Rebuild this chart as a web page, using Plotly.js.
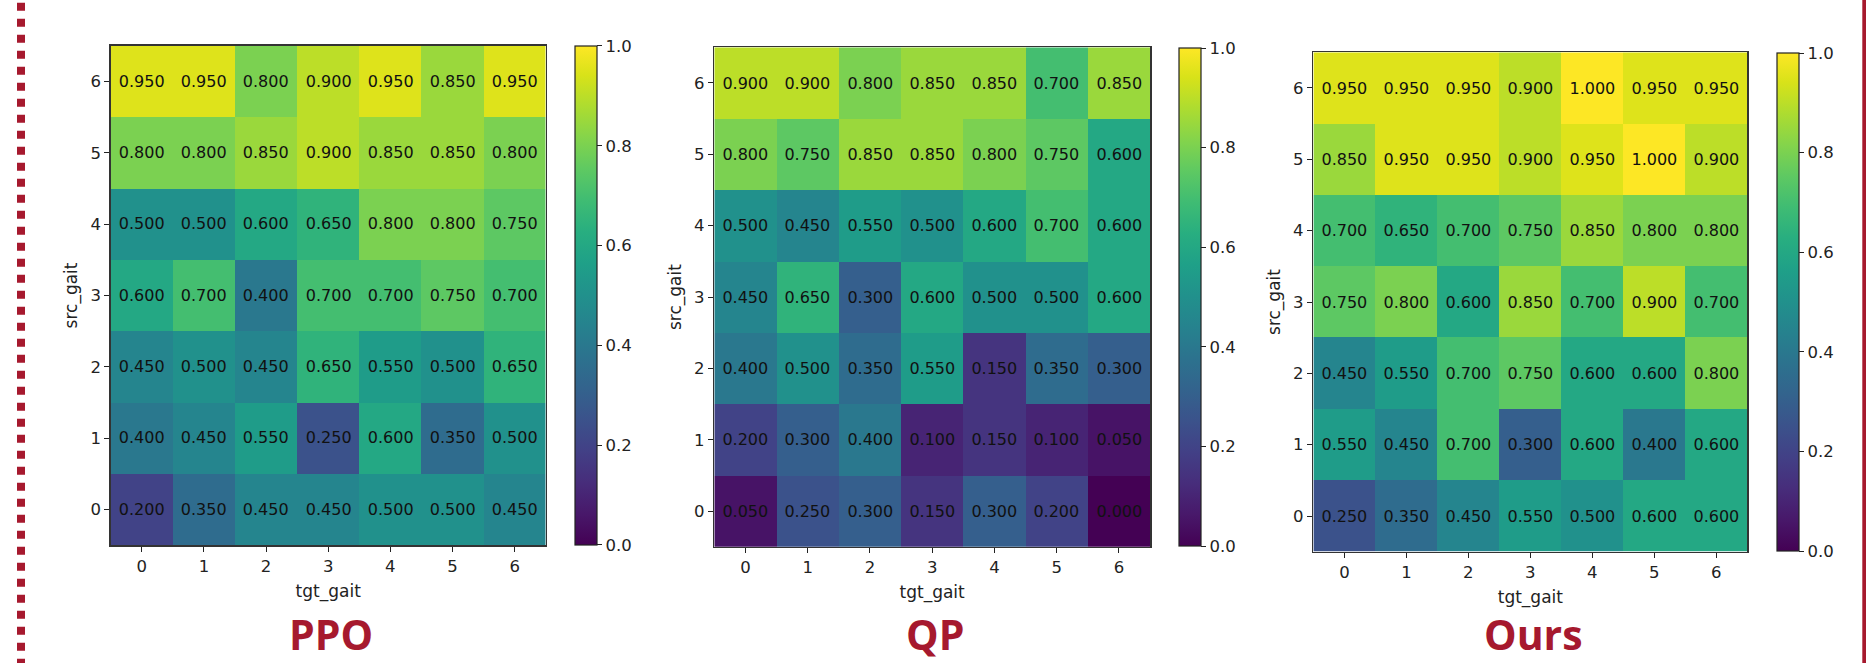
<!DOCTYPE html>
<html>
<head>
<meta charset="utf-8">
<script src="https://cdn.plot.ly/plotly-3.0.1.min.js"></script>
<style>
  html, body { margin: 0; padding: 0; background: #ffffff; }
  #chart { width: 1866px; height: 663px; }
</style>
</head>
<body>
<div id="chart"></div>
<script>
// ---- data ----
const tgtGait = [0, 1, 2, 3, 4, 5, 6];
const srcGait = [0, 1, 2, 3, 4, 5, 6];
const tickLabels = ['0', '1', '2', '3', '4', '5', '6'];
const cbTickVals = [0, 0.2, 0.4, 0.6, 0.8, 1.0];
const cbTickText = ['0.0', '0.2', '0.4', '0.6', '0.8', '1.0'];
const panelTitles = ['PPO', 'QP', 'Ours'];

// rows: src_gait 0..6, columns: tgt_gait 0..6
const ppoValues = [
  [0.20, 0.35, 0.45, 0.45, 0.50, 0.50, 0.45],
  [0.40, 0.45, 0.55, 0.25, 0.60, 0.35, 0.50],
  [0.45, 0.50, 0.45, 0.65, 0.55, 0.50, 0.65],
  [0.60, 0.70, 0.40, 0.70, 0.70, 0.75, 0.70],
  [0.50, 0.50, 0.60, 0.65, 0.80, 0.80, 0.75],
  [0.80, 0.80, 0.85, 0.90, 0.85, 0.85, 0.80],
  [0.95, 0.95, 0.80, 0.90, 0.95, 0.85, 0.95]
];
const qpValues = [
  [0.05, 0.25, 0.30, 0.15, 0.30, 0.20, 0.00],
  [0.20, 0.30, 0.40, 0.10, 0.15, 0.10, 0.05],
  [0.40, 0.50, 0.35, 0.55, 0.15, 0.35, 0.30],
  [0.45, 0.65, 0.30, 0.60, 0.50, 0.50, 0.60],
  [0.50, 0.45, 0.55, 0.50, 0.60, 0.70, 0.60],
  [0.80, 0.75, 0.85, 0.85, 0.80, 0.75, 0.60],
  [0.90, 0.90, 0.80, 0.85, 0.85, 0.70, 0.85]
];
const oursValues = [
  [0.25, 0.35, 0.45, 0.55, 0.50, 0.60, 0.60],
  [0.55, 0.45, 0.70, 0.30, 0.60, 0.40, 0.60],
  [0.45, 0.55, 0.70, 0.75, 0.60, 0.60, 0.80],
  [0.75, 0.80, 0.60, 0.85, 0.70, 0.90, 0.70],
  [0.70, 0.65, 0.70, 0.75, 0.85, 0.80, 0.80],
  [0.85, 0.95, 0.95, 0.90, 0.95, 1.00, 0.90],
  [0.95, 0.95, 0.95, 0.90, 1.00, 0.95, 0.95]
];

// ---- layout geometry (pixels) ----
const W = 1866, H = 663;
const px = x => x / W;
const py = y => 1 - y / H;
const panels = [
  { z: ppoValues,  x0: 110.7,  x1: 545.7,  y0: 45.7, y1: 545.2, cbx: 575 },
  { z: qpValues,   x0: 714.3,  x1: 1150.0, y0: 47.3, y1: 546.8, cbx: 1179 },
  { z: oursValues, x0: 1313.4, x1: 1747.3, y0: 52.3, y1: 551.7, cbx: 1777 }
];

const FONT = 'DejaVu Sans, sans-serif';
const TXT = '#222222';
const RED = '#A6192E';
const TICK_SIZE = 16.5;
const CELL_SIZE = 16;
const AXT_SIZE = 17;

const traces = [];
const layout = {
  width: W, height: H,
  margin: { l: 0, r: 0, t: 0, b: 0, pad: 0 },
  paper_bgcolor: '#ffffff',
  plot_bgcolor: '#ffffff',
  font: { family: FONT, size: TICK_SIZE, color: TXT },
  showlegend: false,
  annotations: [],
  shapes: []
};

panels.forEach((p, i) => {
  const n = i === 0 ? '' : String(i + 1);
  traces.push({
    type: 'heatmap',
    x: tgtGait, y: srcGait, z: p.z,
    xaxis: 'x' + n, yaxis: 'y' + n,
    colorscale: 'Viridis', zmin: 0, zmax: 1,
    texttemplate: '%{z:.3f}',
    textfont: { family: FONT, size: CELL_SIZE, color: '#111111' },
    hoverinfo: 'skip',
    colorbar: {
      x: px(p.cbx), xanchor: 'left', xpad: 0,
      y: py((p.y0 + p.y1) / 2), yanchor: 'middle', ypad: 0,
      len: p.y1 - p.y0 - 1, lenmode: 'pixels',
      thickness: 21.7, thicknessmode: 'pixels',
      outlinewidth: 1.2, outlinecolor: '#222222',
      ticks: 'outside', ticklen: 5, tickwidth: 1, tickcolor: '#222222',
      tickvals: cbTickVals, ticktext: cbTickText,
      tickfont: { family: FONT, size: TICK_SIZE, color: TXT }
    }
  });
  const axCommon = {
    range: [-0.5, 6.5],
    tickvals: tgtGait, ticktext: tickLabels,
    ticks: 'outside', ticklen: 5, tickwidth: 1, tickcolor: '#222222',
    showline: true, mirror: true, linecolor: '#333333', linewidth: 1.5,
    showgrid: false, zeroline: false, fixedrange: true,
    tickfont: { family: FONT, size: TICK_SIZE, color: TXT }
  };
  layout['xaxis' + n] = Object.assign({}, axCommon, {
    domain: [px(p.x0), px(p.x1)],
    anchor: 'y' + n,
    title: { text: 'tgt_gait', standoff: 10, font: { family: FONT, size: AXT_SIZE, color: TXT } }
  });
  layout['yaxis' + n] = Object.assign({}, axCommon, {
    domain: [py(p.y1), py(p.y0)],
    anchor: 'x' + n,
    tickvals: srcGait,
    title: { text: 'src_gait', standoff: 8, font: { family: FONT, size: AXT_SIZE, color: TXT } }
  });
  layout.annotations.push({
    xref: 'paper', yref: 'paper',
    x: px((p.x0 + p.x1) / 2 + 3), y: py(662.5),
    xanchor: 'center', yanchor: 'bottom',
    text: '<b>' + panelTitles[i] + '</b>',
    showarrow: false, borderpad: 0,
    font: { family: 'Open Sans, sans-serif', size: 41, color: RED }
  });
});

// decorative borders
layout.shapes.push({
  type: 'line', xref: 'paper', yref: 'paper',
  x0: px(21), x1: px(21), y0: 1.02, y1: 0,
  line: { color: RED, width: 8, dash: '8px,8px' }
});
layout.shapes.push({
  type: 'rect', xref: 'paper', yref: 'paper',
  x0: px(1862.3), x1: 1, y0: 0, y1: 1,
  fillcolor: RED, line: { width: 0 }
});

Plotly.newPlot('chart', traces, layout, { displayModeBar: false, staticPlot: true });
</script>
</body>
</html>
